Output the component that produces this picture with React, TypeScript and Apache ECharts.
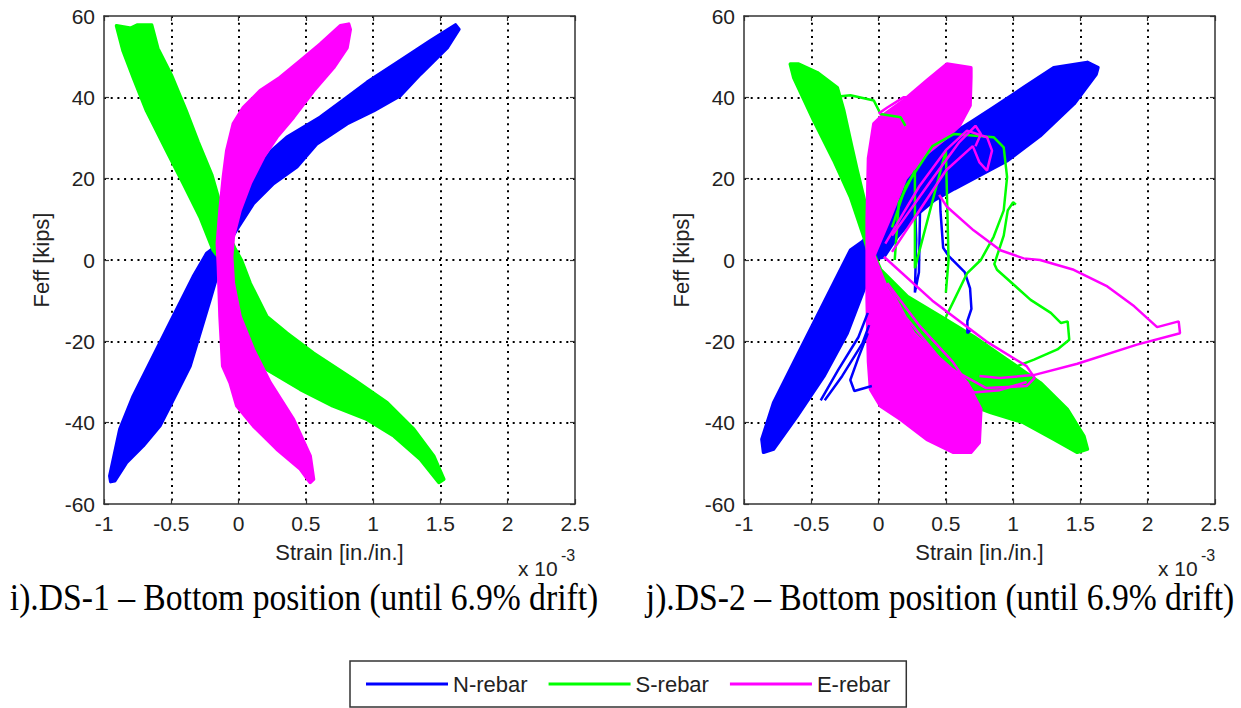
import React, { useEffect, useRef } from "react";
import * as echarts from "echarts";

// ---------- axes ----------
const X_MIN = -1;
const X_MAX = 2.5;
const X_STEP = 0.5;
const Y_MIN = -60;
const Y_MAX = 60;
const Y_STEP = 20;

const SERIES_NAMES = ["N-rebar", "S-rebar", "E-rebar"];
const SERIES_COLORS = ["#0000ff", "#00ff00", "#ff00ff"];

const CAPTIONS = [
  "i).DS-1 \u2013 Bottom position (until 6.9% drift)",
  "j).DS-2 \u2013 Bottom position (until 6.9% drift)",
];

// ---------- DS-1 (left panel): band outlines [strain x1e-3, Feff kips] ----------
const DS1_N = [
  [1.612, 57.8], [1.426, 53.9], [1.2, 49], [0.955, 43.7], [0.806, 40], [0.607, 35.1],
  [0.359, 30.2], [0.247, 26.9], [0.135, 22], [0.036, 14.7], [-0.026, 8.2], [-0.12, 4.5],
  [-0.237, 1.6], [-0.337, -4.1], [-0.486, -13.9], [-0.634, -23.7], [-0.783, -33.5],
  [-0.882, -41.6], [-0.957, -53.1], [-0.95, -54.5], [-0.92, -54.3], [-0.833, -49.8],
  [-0.709, -45.7], [-0.585, -40.8], [-0.497, -35.1], [-0.361, -26.1], [-0.287, -18],
  [-0.212, -9.8], [-0.162, -4.1], [-0.15, 0.8], [-0.07, 4.5], [0, 8.2], [0.11, 13.9],
  [0.259, 18.8], [0.433, 22.9], [0.582, 28.6], [0.806, 33.5], [1.004, 36.7], [1.2, 40.4],
  [1.351, 45.7], [1.55, 52.2], [1.637, 56.7],
];
const DS1_S = [
  [-0.907, 57.6], [-0.858, 51.4], [-0.783, 44.9], [-0.684, 36.7], [-0.535, 26.9],
  [-0.411, 18.8], [-0.287, 10.6], [-0.188, 2.4], [-0.12, -0.5], [-0.063, -1.6],
  [-0.013, -9.8], [0.061, -18], [0.135, -23.7], [0.21, -26.9], [0.458, -31.8],
  [0.7, -35.9], [0.955, -39.2], [1.155, -43.3], [1.35, -49], [1.488, -54.7],
  [1.525, -53.9], [1.45, -48.2], [1.302, -41.6], [1.104, -35.1], [0.855, -29.4],
  [0.557, -22.9], [0.359, -18], [0.21, -13.9], [0.086, -5.7], [0.02, 0], [-0.03, 3],
  [-0.07, 6], [-0.13, 13], [-0.2, 21], [-0.3, 29], [-0.39, 36.7], [-0.5, 45.5],
  [-0.6, 52], [-0.646, 57.8], [-0.75, 57.8], [-0.8, 57],
];
const DS1_E = [
  [0.818, 58], [0.756, 57.6], [0.607, 53.1], [0.458, 49], [0.309, 44.9], [0.16, 41.6],
  [0.036, 37.5], [-0.039, 33.5], [-0.088, 26.9], [-0.113, 20.4], [-0.138, 12.2],
  [-0.158, 4.1], [-0.15, -1.6], [-0.138, -13.9], [-0.118, -26.1], [-0.063, -30.2],
  [-0.013, -35.9], [0.11, -40.8], [0.284, -46.5], [0.458, -51.4], [0.532, -54.7],
  [0.557, -53.9], [0.532, -48.2], [0.408, -39.2], [0.235, -30.2], [0.11, -22],
  [0.011, -13.9], [-0.039, -5.7], [-0.051, 0.8], [-0.039, 5.7], [0.011, 12.2],
  [0.086, 18.8], [0.185, 25.3], [0.284, 30.2], [0.408, 35.1], [0.557, 41.6],
  [0.706, 47.3], [0.806, 52.2], [0.83, 56.7],
];

// ---------- DS-2 (right panel): band outlines ----------
const DS2_N = [
  [1.63, 47.3], [1.551, 48.6], [1.302, 47.3], [1.078, 42.4], [0.855, 37.5], [0.706, 34.3],
  [0.508, 30.2], [0.359, 26.1], [0.21, 20.4], [0.089, 13.9], [-0.035, 7.3], [-0.12, 4.5],
  [-0.209, 2.4], [-0.333, -5.7], [-0.482, -15.5], [-0.631, -25.3], [-0.78, -35.1],
  [-0.867, -44.1], [-0.855, -47.3], [-0.78, -46.5], [-0.606, -38.4], [-0.407, -28.6],
  [-0.233, -18], [-0.109, -7.3], [-0.06, 0], [0.04, 0.8], [0.139, 5.7], [0.264, 10.6],
  [0.413, 14.7], [0.562, 17.5], [0.76, 21], [0.959, 24.5], [1.2, 30.5], [1.452, 38.4],
  [1.617, 45.7],
];
const DS2_S = [
  [-0.656, 48.2], [-0.631, 44.9], [-0.482, 34.3], [-0.333, 24.5], [-0.209, 15.5],
  [-0.109, 5.7], [-0.06, 0], [0.015, -7.3], [0.164, -18], [0.462, -30.2], [0.706, -35.9],
  [0.835, -37.5], [1.078, -40], [1.302, -44.1], [1.477, -47.3], [1.552, -46.5],
  [1.526, -43.3], [1.402, -36.7], [1.203, -30.2], [0.955, -24.5], [0.706, -18.8],
  [0.462, -13.9], [0.214, -9], [0.015, -2.4], [-0.08, 5], [-0.1, 14], [-0.159, 22],
  [-0.2, 28], [-0.258, 36.7], [-0.307, 42.4], [-0.457, 46.1], [-0.594, 48.2],
];
const DS2_E = [
  [0.686, 47.3], [0.508, 48.2], [0.359, 44.1], [0.185, 39.2], [0.015, 35.1], [-0.035, 33.5],
  [-0.075, 25], [-0.085, 10], [-0.085, -10], [-0.075, -25], [-0.06, -31.8], [0.015, -35.9],
  [0.164, -39.2], [0.359, -44.1], [0.557, -47.3], [0.686, -47.3], [0.748, -44.9],
  [0.76, -36.7], [0.657, -30.2], [0.462, -24.5], [0.26, -18], [0.065, -7.3], [-0.035, 1],
  [0.08, 10], [0.2, 20], [0.35, 26], [0.5, 30], [0.6, 33], [0.68, 38], [0.686, 44.9],
];

// ---------- DS-2 thin excursion traces ----------
const DS2_N_TRACES = [
  [[-0.43, -34.5], [-0.3, -27], [-0.15, -19], [-0.08, -13]],
  [[-0.4, -34.5], [-0.27, -28.5], [-0.12, -20.5], [-0.07, -16]],
  [[-0.05, -31], [-0.18, -32.2], [-0.21, -29.5], [-0.15, -24], [-0.08, -18]],
  [[0.27, 14], [0.28, 5], [0.27, -8], [0.3, -3], [0.31, 16], [0.45, 22], [0.46, 12],
   [0.48, 3], [0.52, 1], [0.64, -3], [0.68, -7], [0.69, -12], [0.66, -15], [0.66, -18], [0.69, -17]],
];
const DS2_S_TRACES = [
  [[-0.35, 40], [-0.209, 40.5], [-0.035, 39.2], [0.015, 35.9], [0.164, 35.1], [0.2, 33]],
  [[0.1, 8], [0.2, 18], [0.4, 28], [0.562, 31], [0.855, 30.2], [0.93, 27.7], [0.955, 20.4],
   [0.93, 12.2], [0.855, 5.7], [0.76, 0], [0.657, -3.3], [0.562, -9.8], [0.5, -14]],
  [[1.02, 13.6], [1.0, 14.2], [0.96, 12.2], [0.93, 6], [0.88, 1], [0.86, -1], [0.88, -2.4],
   [1.13, -9.8], [1.28, -13], [1.356, -15.5], [1.405, -15.1], [1.417, -19.6], [1.329, -22],
   [1.155, -24.5], [1.03, -26.1], [0.95, -28]],
  [[0.12, 0], [0.15, 14], [0.27, 22], [0.27, -2], [0.5, 27], [0.52, 0], [0.5, -8]],
];
const DS2_E_TRACES = [
  [[0.0, 36], [0.065, 37.5], [0.185, 40], [0.26, 40], [0.3, 38]],
  [[0.05, 4], [0.3, 18], [0.5, 27], [0.657, 31.8], [0.806, 30.2], [0.843, 26.9], [0.806, 22],
   [0.75, 24], [0.7, 28], [0.5, 22], [0.3, 12], [0.1, 2]],
  [[0.1, 6], [0.4, 20], [0.6, 29], [0.72, 33], [0.76, 31], [0.72, 28]],
  [[0.45, 16], [0.508, 13.1], [0.706, 7.3], [0.905, 2.4], [1.078, 0.4], [1.2, 0], [1.45, -2.4],
   [1.7, -6.5], [1.9, -11.4], [2.07, -16.5], [2.23, -15.1], [2.24, -18], [1.92, -20.8],
   [1.477, -25.5], [1.152, -28.3], [0.9, -29], [0.75, -28.5]],
  [[0.04, 0.8], [0.4, -10], [0.8, -20], [1.1, -26.1], [1.16, -29], [1.1, -31], [0.8, -31.5],
   [0.5, -26], [0.2, -14], [0.065, -5.7]],
  [[0.065, -5.7], [0.3, -16], [0.55, -25], [0.706, -32.6], [0.9, -32], [1.1, -30]],
];

const FONT = "'Liberation Sans', Arial, sans-serif";
const TXT = "#222";
const FRAME = "#333";

function bandSeries(name: string, color: string, pts: number[][], axisIndex: number) {
  return {
    type: "custom",
    name,
    xAxisIndex: axisIndex,
    yAxisIndex: axisIndex,
    data: pts,
    encode: { x: 0, y: 1 },
    itemStyle: { color },
    silent: true,
    renderItem: (params: any, api: any) => {
      if (params.dataIndex !== 0) return null;
      const points = pts.map((p) => api.coord(p));
      return {
        type: "polygon",
        shape: { points },
        style: { fill: color, stroke: color, lineWidth: 3.5, lineJoin: "round" },
      };
    },
  };
}

function traceSeries(name: string, color: string, pts: number[][], axisIndex: number) {
  return {
    type: "line",
    name,
    xAxisIndex: axisIndex,
    yAxisIndex: axisIndex,
    data: pts,
    symbol: "none",
    showSymbol: false,
    silent: true,
    lineStyle: { color, width: 2.5 },
    itemStyle: { color },
  };
}

const GRID_LINE = { color: "#000", width: 2, type: [2, 4.7] };

function xAxesFor(gridIndex: number) {
  const common = {
    type: "value",
    gridIndex,
    min: X_MIN,
    max: X_MAX,
    interval: X_STEP,
    axisLine: { show: true, onZero: false, lineStyle: { color: FRAME, width: 1.5 } },
    axisTick: { show: true, inside: true, length: 5, lineStyle: { color: FRAME, width: 1.2 } },
  };
  return [
    {
      ...common,
      position: "bottom",
      name: "Strain [in./in.]",
      nameLocation: "middle",
      nameGap: 37,
      nameTextStyle: { fontSize: 22, fontFamily: FONT, color: TXT },
      axisLabel: { show: true, fontSize: 21, fontFamily: FONT, color: TXT, margin: 9 },
      splitLine: { show: true, showMinLine: false, showMaxLine: false, lineStyle: GRID_LINE },
    },
    {
      ...common,
      position: "top",
      axisLabel: { show: false },
      splitLine: { show: false },
    },
  ];
}

function yAxesFor(gridIndex: number) {
  const common = {
    type: "value",
    gridIndex,
    min: Y_MIN,
    max: Y_MAX,
    interval: Y_STEP,
    axisLine: { show: true, onZero: false, lineStyle: { color: FRAME, width: 1.5 } },
    axisTick: { show: true, inside: true, length: 5, lineStyle: { color: FRAME, width: 1.2 } },
  };
  return [
    {
      ...common,
      position: "left",
      name: "Feff [kips]",
      nameLocation: "middle",
      nameGap: 52,
      nameTextStyle: { fontSize: 22, fontFamily: FONT, color: TXT },
      axisLabel: { show: true, fontSize: 21, fontFamily: FONT, color: TXT, margin: 9 },
      splitLine: { show: true, showMinLine: false, showMaxLine: false, lineStyle: GRID_LINE },
    },
    {
      ...common,
      position: "right",
      axisLabel: { show: false },
      splitLine: { show: false },
    },
  ];
}

const GRID_LEFTS = [104, 744];
const CAPTION_X = [304, 940];

function buildOption() {
  const [cN, cS, cE] = SERIES_COLORS;
  const [nN, nS, nE] = SERIES_NAMES;
  const series: any[] = [
    bandSeries(nN, cN, DS1_N, 0),
    bandSeries(nS, cS, DS1_S, 0),
    bandSeries(nE, cE, DS1_E, 0),
    bandSeries(nN, cN, DS2_N, 2),
    bandSeries(nS, cS, DS2_S, 2),
    bandSeries(nE, cE, DS2_E, 2),
    ...DS2_N_TRACES.map((t) => traceSeries(nN, cN, t, 2)),
    ...DS2_S_TRACES.map((t) => traceSeries(nS, cS, t, 2)),
    ...DS2_E_TRACES.map((t) => traceSeries(nE, cE, t, 2)),
  ];

  const graphic: any[] = [];
  GRID_LEFTS.forEach((left, i) => {
    graphic.push({
      type: "text",
      x: left + 414,
      y: 568,
      silent: true,
      style: { text: "x 10", fontSize: 21, fontFamily: FONT, fill: TXT, align: "left", verticalAlign: "middle" },
    });
    graphic.push({
      type: "text",
      x: left + 457,
      y: 555,
      silent: true,
      style: { text: "-3", fontSize: 16, fontFamily: FONT, fill: TXT, align: "left", verticalAlign: "middle" },
    });
    graphic.push({
      type: "text",
      x: CAPTION_X[i],
      y: 597,
      scaleX: 0.885,
      silent: true,
      style: {
        text: CAPTIONS[i],
        fontSize: 38,
        fontFamily: "'Liberation Serif', 'DejaVu Serif', serif",
        fill: "#000",
        align: "center",
        verticalAlign: "middle",
      },
    });
  });

  return {
    animation: false,
    backgroundColor: "#ffffff",
    color: SERIES_COLORS,
    grid: GRID_LEFTS.map((left) => ({ left, top: 16, width: 471, height: 488, containLabel: false })),
    xAxis: [...xAxesFor(0), ...xAxesFor(1)],
    yAxis: [...yAxesFor(0), ...yAxesFor(1)],
    legend: {
      data: SERIES_NAMES,
      left: 350,
      top: 661,
      orient: "horizontal",
      icon: "rect",
      itemWidth: 82,
      itemHeight: 3,
      itemGap: 21,
      padding: [12, 16, 12, 16],
      borderColor: "#333",
      borderWidth: 1.5,
      backgroundColor: "#fff",
      selectedMode: false,
      textStyle: { fontSize: 22, fontFamily: FONT, color: TXT },
    },
    graphic,
    series,
  };
}

export default function App() {
  const ref = useRef<HTMLDivElement>(null);
  useEffect(() => {
    if (!ref.current) return;
    const chart = echarts.init(ref.current, undefined, { renderer: "svg" });
    chart.setOption(buildOption() as any);
    return () => chart.dispose();
  }, []);
  return (
    <div
      ref={ref}
      style={{ position: "fixed", left: 0, top: 0, width: 1241, height: 708, background: "#fff" }}
    />
  );
}
